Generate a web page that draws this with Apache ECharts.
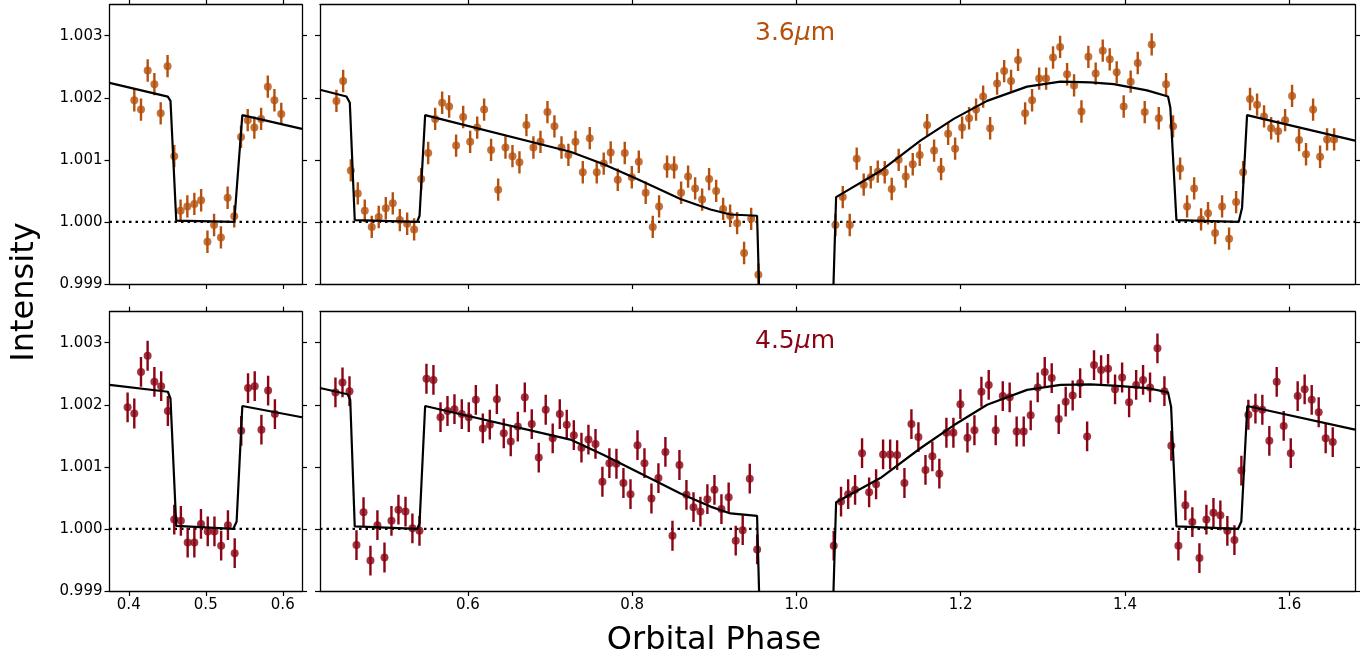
<!DOCTYPE html>
<html><head><meta charset="utf-8">
<script src="https://cdn.jsdelivr.net/npm/echarts@6/dist/echarts.min.js"></script>
<style>html,body{margin:0;padding:0;background:#fff}#c{width:1366px;height:657px}</style>
</head><body><div id="c"></div>
<script>
// ---------- tick labels ----------
const yTicks = [0.999, 1.000, 1.001, 1.002, 1.003];
const xTicksLeft = [0.4, 0.5, 0.6];
const xTicksRight = [0.6, 0.8, 1.0, 1.2, 1.4, 1.6];

// ---------- 3.6 micron, left panel ----------
const phase36L = [0.4072,0.4159,0.4246,0.4333,0.4415,0.4504,0.4591,0.4673,0.4761,0.4852,0.4940,0.5022,0.5108,0.5197,0.5284,0.5370,0.5458,0.5545,0.5631,0.5719,0.5806,0.5892,0.5981];
const flux36L = [1.00196,1.00181,1.00244,1.00222,1.00175,1.00251,1.00106,1.00018,1.00025,1.00029,1.00035,0.99968,0.99995,0.99975,1.00039,1.00009,1.00137,1.00164,1.00152,1.00166,1.00218,1.00196,1.00174];

// ---------- 3.6 micron, right panel ----------
const phase36R = [0.4400,0.4482,0.4575,0.4660,0.4745,0.4830,0.4915,0.5001,0.5086,0.5172,0.5261,0.5346,0.5432,0.5517,0.5602,0.5687,0.5772,0.5857,0.5943,0.6028,0.6114,0.6198,0.6283,0.6369,0.6458,0.6543,0.6628,0.6713,0.6798,0.6884,0.6969,0.7054,0.7140,0.7224,0.7310,0.7399,0.7484,0.7569,0.7654,0.7739,0.7825,0.7910,0.7996,0.8081,0.8165,0.8251,0.8328,0.8425,0.8511,0.8596,0.8681,0.8767,0.8852,0.8937,0.9023,0.9108,0.9193,0.9278,0.9363,0.9449,0.9537,
1.0475,1.0564,1.0649,1.0734,1.0819,1.0905,1.0990,1.1075,1.1160,1.1245,1.1331,1.1416,1.1501,1.1591,1.1676,1.1761,1.1847,1.1932,1.2017,1.2102,1.2187,1.2273,1.2358,1.2443,1.2529,1.2613,1.2698,1.2784,1.2869,1.2955,1.3040,1.3124,1.3210,1.3295,1.3380,1.3470,1.3554,1.3643,1.3729,1.3814,1.3899,1.3984,1.4069,1.4155,1.4240,1.4325,1.4411,1.4500,1.4585,1.4671,1.4756,1.4842,1.4926,1.5011,1.5097,1.5182,1.5267,1.5353,1.5438,1.5522,1.5608,1.5693,1.5779,1.5864,1.5949,1.6034,1.6119,1.6204,1.6290,1.6375,1.6460,1.6546];
const flux36R = [1.00195,1.00227,1.00083,1.00046,1.00018,0.99992,1.00008,1.00022,1.00030,1.00003,0.99997,0.99988,1.00069,1.00111,1.00166,1.00192,1.00186,1.00123,1.00169,1.00129,1.00152,1.00181,1.00116,1.00052,1.00120,1.00106,1.00096,1.00156,1.00120,1.00129,1.00177,1.00154,1.00120,1.00108,1.00129,1.00080,1.00135,1.00080,1.00094,1.00112,1.00068,1.00111,1.00072,1.00097,1.00047,0.99992,1.00025,1.00089,1.00088,1.00047,1.00073,1.00054,1.00036,1.00069,1.00050,1.00021,1.00010,0.99998,0.99950,1.00005,0.99915,
0.99995,1.00040,0.99995,1.00102,1.00060,1.00072,1.00081,1.00080,1.00053,1.00100,1.00073,1.00093,1.00108,1.00156,1.00115,1.00085,1.00142,1.00118,1.00152,1.00167,1.00181,1.00202,1.00151,1.00223,1.00243,1.00227,1.00261,1.00175,1.00196,1.00231,1.00231,1.00265,1.00282,1.00238,1.00220,1.00178,1.00266,1.00239,1.00276,1.00262,1.00241,1.00186,1.00226,1.00256,1.00177,1.00286,1.00167,1.00222,1.00154,1.00086,1.00025,1.00054,1.00004,1.00014,0.99982,1.00025,0.99973,1.00032,1.00080,1.00198,1.00189,1.00170,1.00151,1.00146,1.00164,1.00203,1.00132,1.00109,1.00181,1.00105,1.00133,1.00133];

// ---------- 4.5 micron, left panel ----------
const phase45L = [0.3985,0.4072,0.4159,0.4245,0.4333,0.4421,0.4508,0.4591,0.4677,0.4765,0.4852,0.4938,0.5026,0.5113,0.5200,0.5288,0.5376,0.5461,0.5549,0.5636,0.5723,0.5810,0.5898];
const flux45L = [1.00196,1.00186,1.00253,1.00279,1.00237,1.00230,1.00190,1.00015,1.00013,0.99978,0.99978,1.00008,0.99996,0.99996,0.99973,1.00006,0.99961,1.00158,1.00227,1.00230,1.00160,1.00223,1.00185];

// ---------- 4.5 micron, right panel ----------
const phase45R = [0.4388,0.4474,0.4559,0.4644,0.4730,0.4814,0.4899,0.4985,0.5070,0.5155,0.5241,0.5325,0.5411,0.5496,0.5581,0.5667,0.5752,0.5837,0.5926,0.6011,0.6097,0.6182,0.6267,0.6353,0.6437,0.6522,0.6608,0.6693,0.6778,0.6863,0.6948,0.7033,0.7119,0.7204,0.7290,0.7383,0.7468,0.7554,0.7638,0.7723,0.7809,0.7894,0.7980,0.8065,0.8150,0.8235,0.8320,0.8405,0.8491,0.8576,0.8661,0.8747,0.8831,0.8916,0.9002,0.9087,0.9175,0.9261,0.9346,0.9432,0.9522,
1.0454,1.0543,1.0630,1.0714,1.0799,1.0885,1.0970,1.1055,1.1141,1.1226,1.1315,1.1400,1.1485,1.1571,1.1655,1.1740,1.1826,1.1911,1.1996,1.2082,1.2167,1.2252,1.2341,1.2426,1.2512,1.2596,1.2681,1.2767,1.2852,1.2937,1.3023,1.3108,1.3193,1.3278,1.3363,1.3454,1.3539,1.3623,1.3709,1.3794,1.3879,1.3965,1.4050,1.4136,1.4220,1.4305,1.4395,1.4480,1.4564,1.4650,1.4735,1.4820,1.4906,1.4991,1.5077,1.5161,1.5246,1.5332,1.5417,1.5502,1.5588,1.5672,1.5757,1.5847,1.5932,1.6018,1.6102,1.6187,1.6273,1.6358,1.6443,1.6529];
const flux45R = [1.00220,1.00236,1.00222,0.99974,1.00027,0.99949,1.00006,0.99954,1.00013,1.00031,1.00028,1.00001,0.99997,1.00242,1.00240,1.00180,1.00190,1.00193,1.00185,1.00180,1.00208,1.00162,1.00168,1.00209,1.00154,1.00141,1.00165,1.00212,1.00169,1.00115,1.00192,1.00146,1.00185,1.00168,1.00151,1.00131,1.00144,1.00137,1.00076,1.00106,1.00105,1.00074,1.00056,1.00135,1.00106,1.00049,1.00082,1.00124,0.99989,1.00103,1.00055,1.00035,1.00028,1.00048,1.00063,1.00032,1.00051,0.99981,0.99998,1.00081,0.99967,
0.99973,1.00044,1.00056,1.00063,1.00122,1.00059,1.00072,1.00120,1.00120,1.00119,1.00074,1.00169,1.00148,1.00095,1.00117,1.00089,1.00155,1.00155,1.00201,1.00147,1.00159,1.00221,1.00232,1.00159,1.00214,1.00212,1.00157,1.00157,1.00183,1.00228,1.00253,1.00243,1.00177,1.00205,1.00215,1.00235,1.00149,1.00264,1.00256,1.00258,1.00225,1.00244,1.00204,1.00232,1.00240,1.00228,1.00291,1.00222,1.00134,0.99973,1.00038,1.00011,0.99953,1.00015,1.00026,1.00022,0.99997,0.99982,1.00094,1.00184,1.00194,1.00192,1.00142,1.00237,1.00166,1.00122,1.00214,1.00225,1.00208,1.00188,1.00146,1.00140];

// ---------- error bar half-lengths ----------
const err36 = 0.00018;
const err45 = 0.00024;

// ---------- model curves ----------
const model36LPhase = [0.375,0.4507,0.4542,0.4617,0.5370,0.5475,0.625];
const model36LFlux  = [1.00224,1.00202,1.00195,1.00002,1.00000,1.00172,1.00150];
const model36RPhase = [0.420,0.4522,0.4563,0.4623,0.5382,0.5412,0.5480,0.7248,0.7654,0.8061,0.8588,0.8954,0.9197,0.9521,0.9555,1.0440,1.0483,1.1022,1.1509,1.1915,1.2321,1.2808,1.3214,1.3579,1.3862,1.4268,1.4524,1.4552,1.4626,1.5384,1.5425,1.5486,1.680];
const model36RFlux  = [1.00213,1.00202,1.00192,1.00003,1.00000,1.00010,1.00172,1.00113,1.00093,1.00069,1.00037,1.00020,1.00012,1.00010,0.99850,0.99850,1.00040,1.00082,1.00131,1.00166,1.00195,1.00218,1.00226,1.00225,1.00222,1.00212,1.00202,1.00184,1.00003,1.00000,1.00023,1.00172,1.00131];
const model45LPhase = [0.375,0.4508,0.4542,0.4617,0.5357,0.5401,0.5475,0.625];
const model45LFlux  = [1.00232,1.00221,1.00210,1.00005,1.00000,1.00012,1.00198,1.00180];
const model45RPhase = [0.420,0.4535,0.4568,0.4623,0.5382,0.5412,0.5480,0.7248,0.7654,0.8061,0.8588,0.8954,0.9197,0.9521,0.9555,1.0440,1.0483,1.1022,1.1509,1.1915,1.2321,1.2808,1.3214,1.3579,1.3862,1.4268,1.4524,1.4561,1.4626,1.5376,1.5416,1.5489,1.680];
const model45RFlux  = [1.00227,1.00217,1.00208,1.00004,1.00000,1.00009,1.00198,1.00144,1.00119,1.00092,1.00057,1.00036,1.00025,1.00021,0.99850,0.99850,1.00043,1.00082,1.00130,1.00167,1.00200,1.00224,1.00232,1.00233,1.00231,1.00227,1.00220,1.00197,1.00004,1.00000,1.00012,1.00198,1.00160];

// ---------- styling ----------
const C36 = '#B4500C';
const C45 = '#8A0414';
const FONT = 'DejaVu Sans';
const xRangeL = [0.375, 0.625];
const xRangeR = [0.42, 1.68];
const yRange = [0.999, 1.0035];

const grids = [
  {left:109.5, top:4.7, width:192.5, height:279.3},
  {left:320, top:4.7, width:1035, height:279.3},
  {left:109.5, top:311.7, width:192.5, height:279.3},
  {left:320, top:311.7, width:1035, height:279.3}
].map(g => Object.assign({containLabel:false, outerBoundsMode:'none', show:false}, g));

function xAx(grid, pos, ticks, range, showLabel){
  return {type:'value', gridIndex:grid, position:pos, min:range[0], max:range[1], scale:true,
    axisLine:{show:true, onZero:false, lineStyle:{color:'#000', width:1.3}},
    axisTick:{show:true, inside:false, length:5, lineStyle:{color:'#000', width:1.2}, customValues:ticks},
    axisLabel:{show:showLabel, customValues:ticks, formatter:v=>Number(v).toFixed(1), fontSize:15, color:'#000', fontFamily:FONT, margin:7},
    splitLine:{show:false}};
}
function yAx(grid, pos, showLabel){
  return {type:'value', gridIndex:grid, position:pos, min:yRange[0], max:yRange[1], scale:true,
    axisLine:{show:true, onZero:false, lineStyle:{color:'#000', width:1.3}},
    axisTick:{show:true, inside:false, length:5, lineStyle:{color:'#000', width:1.2}, customValues:yTicks},
    axisLabel:{show:showLabel, customValues:yTicks, formatter:v=>Number(v).toFixed(3), fontSize:15, color:'#000', fontFamily:FONT, margin:7},
    splitLine:{show:false}};
}
const xAxes = [
  xAx(0,'bottom',xTicksLeft,xRangeL,false), xAx(0,'top',xTicksLeft,xRangeL,false),
  xAx(1,'bottom',xTicksRight,xRangeR,false), xAx(1,'top',xTicksRight,xRangeR,false),
  xAx(2,'bottom',xTicksLeft,xRangeL,true), xAx(2,'top',xTicksLeft,xRangeL,false),
  xAx(3,'bottom',xTicksRight,xRangeR,true), xAx(3,'top',xTicksRight,xRangeR,false)
];
const yAxes = [
  yAx(0,'left',true), yAx(0,'right',false),
  yAx(1,'left',false), yAx(1,'right',false),
  yAx(2,'left',true), yAx(2,'right',false),
  yAx(3,'left',false), yAx(3,'right',false)
];

function panelSeries(ai, px, fy, err, color, mp, mf, range){
  return [
    {type:'line', xAxisIndex:ai, yAxisIndex:ai, data:[[range[0],1],[range[1],1]], symbol:'none', silent:true, z:1,
      lineStyle:{color:'#000', width:2.2, type:[2.5,4], cap:'butt'}, animation:false},
    {type:'custom', xAxisIndex:ai, yAxisIndex:ai, clip:true, z:2, silent:true, animation:false,
      data: px.map((p,i)=>[p, fy[i], err]), encode:{x:0, y:1},
      renderItem:(params, api)=>{
        const x=api.value(0), y=api.value(1), e=api.value(2);
        const a=api.coord([x, y-e]), b=api.coord([x, y+e]);
        return {type:'line', shape:{x1:a[0], y1:a[1], x2:b[0], y2:b[1]}, style:{stroke:color, lineWidth:2.4}};
      }},
    {type:'scatter', xAxisIndex:ai, yAxisIndex:ai, data: px.map((p,i)=>[p, fy[i]]), symbol:'circle', symbolSize:8,
      itemStyle:{color:color}, z:3, silent:true, animation:false},
    {type:'line', xAxisIndex:ai, yAxisIndex:ai, data: mp.map((p,i)=>[p, mf[i]]), symbol:'none', clip:true, z:4, silent:true,
      lineStyle:{color:'#000', width:2.2}, animation:false}
  ];
}

const series = [].concat(
  panelSeries(0, phase36L, flux36L, err36, C36, model36LPhase, model36LFlux, xRangeL),
  panelSeries(2, phase36R, flux36R, err36, C36, model36RPhase, model36RFlux, xRangeR),
  panelSeries(4, phase45L, flux45L, err45, C45, model45LPhase, model45LFlux, xRangeL),
  panelSeries(6, phase45R, flux45R, err45, C45, model45RPhase, model45RFlux, xRangeR)
);

function bandLabel(y, num, color){
  return {type:'text', x:795, y:y, z:10, silent:true,
    style:{text:'{n|'+num+'}{i|μ}{n|m}', align:'center', verticalAlign:'middle', fill:color,
      rich:{n:{fontSize:25, fontFamily:FONT, fill:color}, i:{fontSize:25, fontFamily:FONT, fontStyle:'italic', fill:color}}}};
}

const chart = echarts.init(document.getElementById('c'), null, {renderer:'canvas'});
chart.setOption({
  animation:false,
  backgroundColor:'#fff',
  grid: grids,
  xAxis: xAxes,
  yAxis: yAxes,
  series: series,
  graphic: [
    bandLabel(33, '3.6', C36),
    bandLabel(341, '4.5', C45),
    {type:'text', x:25, y:292, rotation:Math.PI/2, silent:true,
      style:{text:'Intensity', font:'32px "DejaVu Sans"', fill:'#000', align:'center', verticalAlign:'middle'}},
    {type:'text', x:714, y:641, silent:true,
      style:{text:'Orbital Phase', font:'32px "DejaVu Sans"', fill:'#000', align:'center', verticalAlign:'middle'}}
  ]
});
</script></body></html>
